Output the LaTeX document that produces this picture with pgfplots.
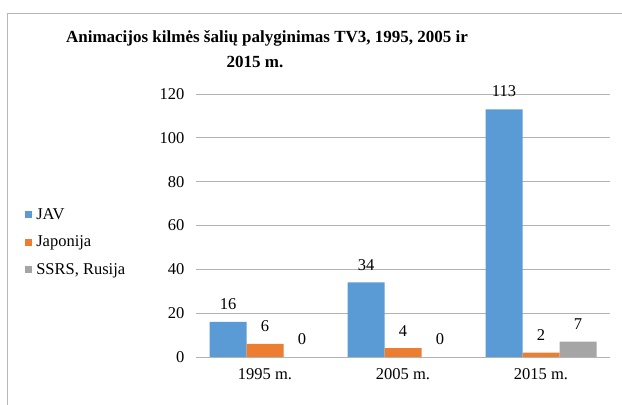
\documentclass[border=0pt]{standalone}
\usepackage{pgfplots}
\pgfplotsset{compat=1.18}
\usepackage{fontspec}
\setmainfont{Liberation Serif}
\definecolor{cblue}{HTML}{5B9BD5}
\definecolor{corange}{HTML}{ED7D31}
\definecolor{cgray}{HTML}{A5A5A5}
\newcommand{\chfont}{\fontsize{16.5bp}{19bp}\selectfont}
\begin{document}
\begin{tikzpicture}
\useasboundingbox (0bp,0bp) rectangle (622bp,405bp);
\draw[color=black!28, line width=1bp] (7bp,-20bp) rectangle (640bp,391bp);
\node[font=\bfseries\fontsize{17bp}{19bp}\selectfont] at (267bp,367bp) {Animacijos kilmės šalių palyginimas TV3, 1995, 2005 ir};
\node[font=\bfseries\fontsize{17bp}{19bp}\selectfont] at (255bp,343bp) {2015 m.};
\begin{axis}[
  at={(196bp,48bp)}, anchor=south west,
  scale only axis, width=414bp, height=263bp,
  ybar=0pt, bar width=37bp,
  ymin=0, ymax=120, ytick={0,20,...,120},
  xmin=-0.5, xmax=2.5, xtick=data,
  xticklabels={1995 m.,2005 m.,2015 m.},
  axis x line*=bottom, axis y line*=left,
  y axis line style={draw=none},
  x axis line style={draw=black!30, line width=1bp, -},
  major tick length=0pt,
  ymajorgrids, grid style={black!30, line width=0.9bp},
  /pgf/number format/assume math mode=true,
  ticklabel style={font=\chfont, text=black},
  yticklabel style={xshift=-8bp},
  xticklabel style={yshift=-8bp},
  nodes near coords,
  every node near coord/.append style={font=\chfont, text=black, anchor=south, inner sep=2bp, yshift=10bp},
  legend style={at={(-0.414,0.437)}, anchor=west, draw=none, fill=none, font=\chfont, row sep=11bp, inner sep=0pt},
  legend cell align=left,
  legend image code/.code={\fill[#1,draw=none] (0bp,-3.5bp) rectangle (7.5bp,3.5bp); \path (0bp,0bp) -- (9.5bp,0bp);},
]
\addplot[fill=cblue, draw=none] coordinates {(0,16) (1,34) (2,113)};
\addplot[fill=corange, draw=none] coordinates {(0,6) (1,4) (2,2)};
\addplot[fill=cgray, draw=none] coordinates {(0,0) (1,0) (2,7)};
\legend{JAV,Japonija,{SSRS, Rusija}}
\end{axis}
\end{tikzpicture}
\end{document}
